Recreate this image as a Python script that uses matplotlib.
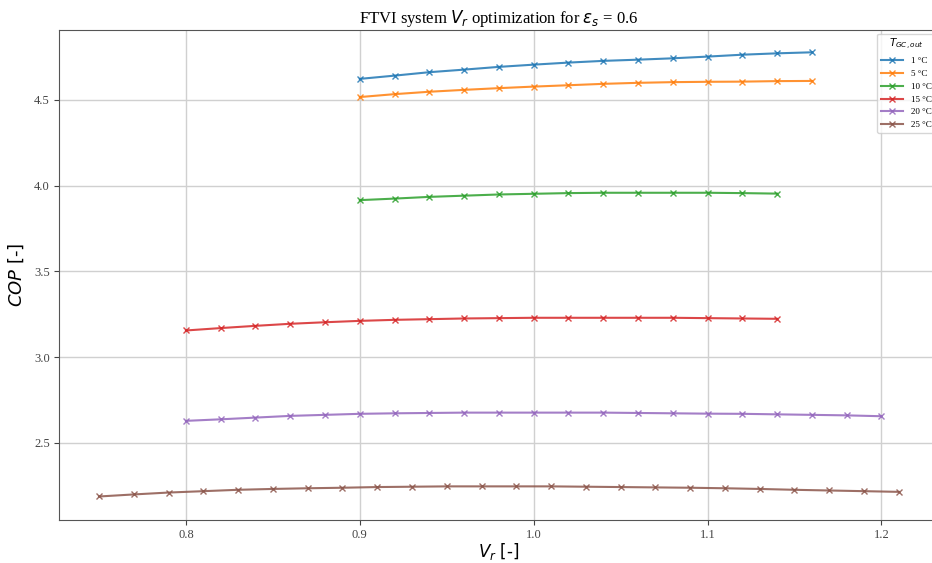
import numpy as np
import matplotlib.pyplot as plt

# data
temps = ['1 °C', '5 °C', '10 °C', '15 °C', '20 °C', '25 °C']

vr_1 = [0.90, 0.92, 0.94, 0.96, 0.98, 1.00, 1.02, 1.04, 1.06, 1.08, 1.10, 1.12, 1.14, 1.16]
cop_1 = [4.622, 4.641, 4.661, 4.676, 4.692, 4.705, 4.717, 4.727, 4.734, 4.742, 4.752, 4.763, 4.771, 4.777]

vr_5 = [0.90, 0.92, 0.94, 0.96, 0.98, 1.00, 1.02, 1.04, 1.06, 1.08, 1.10, 1.12, 1.14, 1.16]
cop_5 = [4.516, 4.533, 4.547, 4.558, 4.568, 4.577, 4.585, 4.593, 4.599, 4.603, 4.605, 4.606, 4.609, 4.610]

vr_10 = [0.90, 0.92, 0.94, 0.96, 0.98, 1.00, 1.02, 1.04, 1.06, 1.08, 1.10, 1.12, 1.14]
cop_10 = [3.915, 3.924, 3.934, 3.941, 3.948, 3.952, 3.956, 3.958, 3.958, 3.958, 3.958, 3.956, 3.953]

vr_15 = [0.80, 0.82, 0.84, 0.86, 0.88, 0.90, 0.92, 0.94, 0.96, 0.98, 1.00, 1.02, 1.04, 1.06, 1.08, 1.10, 1.12, 1.14]
cop_15 = [3.155, 3.169, 3.182, 3.194, 3.203, 3.211, 3.217, 3.221, 3.225, 3.227, 3.229, 3.229, 3.229, 3.229, 3.229, 3.227, 3.225, 3.223]

vr_20 = [0.80, 0.82, 0.84, 0.86, 0.88, 0.90, 0.92, 0.94, 0.96, 0.98, 1.00, 1.02, 1.04, 1.06, 1.08, 1.10, 1.12, 1.14, 1.16, 1.18, 1.20]
cop_20 = [2.628, 2.637, 2.647, 2.657, 2.663, 2.669, 2.672, 2.674, 2.676, 2.676, 2.676, 2.676, 2.676, 2.674, 2.672, 2.670, 2.669, 2.666, 2.663, 2.660, 2.655]

vr_25 = [0.75, 0.77, 0.79, 0.81, 0.83, 0.85, 0.87, 0.89, 0.91, 0.93, 0.95, 0.97, 0.99, 1.01, 1.03, 1.05, 1.07, 1.09, 1.11, 1.13, 1.15, 1.17, 1.19, 1.21]
cop_25 = [2.187, 2.199, 2.210, 2.218, 2.226, 2.231, 2.235, 2.238, 2.242, 2.244, 2.246, 2.246, 2.246, 2.246, 2.244, 2.242, 2.240, 2.238, 2.235, 2.231, 2.226, 2.222, 2.218, 2.214]

series = [(vr_1, cop_1), (vr_5, cop_5), (vr_10, cop_10), (vr_15, cop_15), (vr_20, cop_20), (vr_25, cop_25)]

fig = plt.figure(figsize=(9.32, 5.63), dpi=100)
ax = fig.add_axes([0.0633, 0.0764, 0.944, 0.8703])

for (x, y), lab in zip(series, temps):
    ax.plot(x, y, marker='x', markersize=5, linewidth=1.5, alpha=0.85, label=lab)

ax.set_xlim(0.727, 1.233)
ax.set_ylim(2.05, 4.907)
ax.set_yticks([2.5, 3.0, 3.5, 4.0, 4.5])
ax.set_xticks([0.8, 0.9, 1.0, 1.1, 1.2])
ax.grid(True, color='#d0d0d0', linewidth=1)
ax.set_axisbelow(True)

for lbl in ax.get_xticklabels() + ax.get_yticklabels():
    lbl.set_fontfamily('Liberation Serif')
    lbl.set_fontsize(9)
ax.tick_params(colors='#444444', labelcolor='#444444', pad=3)
for s in ax.spines.values():
    s.set_color('#555555')

ax.set_title(r'FTVI system $V_r$ optimization for $\varepsilon_s$ = 0.6',
             fontfamily='Liberation Serif', fontsize=12, pad=5)
ax.set_xlabel(r'$V_r$ [-]', fontsize=12, labelpad=0)
ax.set_ylabel(r'$COP$ [-]', fontsize=13, labelpad=6)

leg = ax.legend(title=r'$T_{GC,out}$', loc='upper right', prop={'family': 'Liberation Serif', 'size': 6.5},
                title_fontsize=7.5, handlelength=2.5, borderaxespad=0.4)

fig.savefig('out.png', dpi=100)
